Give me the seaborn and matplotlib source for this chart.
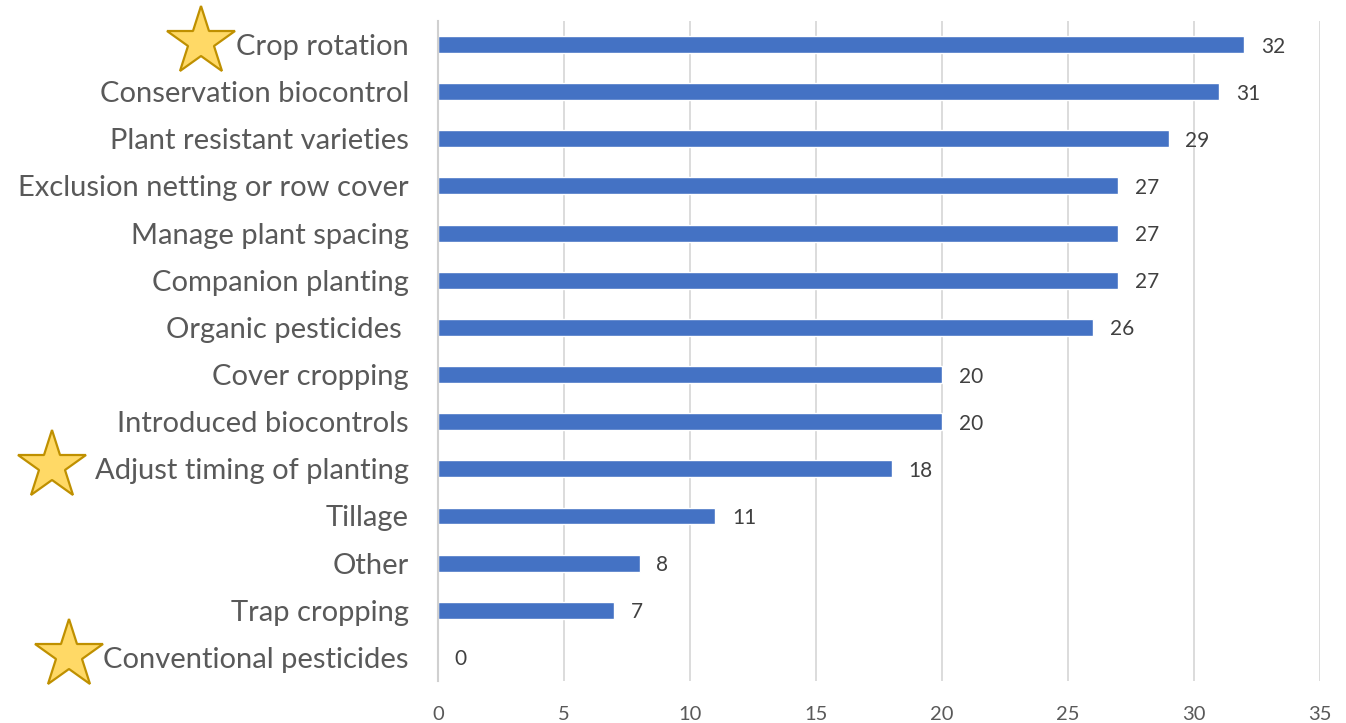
import matplotlib
matplotlib.use('Agg')
import matplotlib.pyplot as plt
import matplotlib.transforms as mtransforms
import seaborn as sns
import pandas as pd

# Data
practices = ['Crop rotation', 'Conservation biocontrol', 'Plant resistant varieties',
             'Exclusion netting or row cover', 'Manage plant spacing', 'Companion planting',
             'Organic pesticides ', 'Cover cropping', 'Introduced biocontrols',
             'Adjust timing of planting', 'Tillage', 'Other', 'Trap cropping',
             'Conventional pesticides']
counts = [32, 31, 29, 27, 27, 27, 26, 20, 20, 18, 11, 8, 7, 0]
starred = ['Crop rotation', 'Adjust timing of planting', 'Conventional pesticides']
star_x = [0.149, 0.039, 0.051]  # figure fraction for the star centres
x_ticks = [0, 5, 10, 15, 20, 25, 30, 35]

df = pd.DataFrame({'practice': practices, 'count': counts})

sns.set_theme(style='white')
plt.rcParams['font.family'] = ['Lato', 'DejaVu Sans']

fig = plt.figure(figsize=(13.46, 7.23), dpi=100)
ax = fig.add_axes([0.3254, 0.0581, 0.9807 - 0.3254, 0.971 - 0.0581])

sns.barplot(data=df, y='practice', x='count', order=practices, color='#4472C4',
            width=0.36, saturation=1, ax=ax)

ax.set_xlim(0, 35)
ax.set_ylim(len(practices) - 0.5, -0.5)
ax.set_xticks(x_ticks)
ax.xaxis.grid(True, color='#D9D9D9', lw=1.3)
ax.set_axisbelow(True)
for s in ['top', 'right', 'bottom']:
    ax.spines[s].set_visible(False)
ax.spines['left'].set_color('#D0D0D0')
ax.spines['left'].set_linewidth(1.5)
ax.set_xlabel('')
ax.set_ylabel('')
ax.tick_params(axis='y', length=0, pad=21, labelsize=21, labelcolor='#595959')
ax.tick_params(axis='x', length=0, pad=18, labelsize=14.5, labelcolor='#595959')
for lab in ax.get_yticklabels():
    lab.set_verticalalignment('center_baseline')

# value labels
for i, v in enumerate(counts):
    ax.annotate(str(v), xy=(v, i), xytext=(12, 0), textcoords='offset points',
                va='center_baseline', ha='left', fontsize=15, color='#404040')

# stars next to highlighted practices
trans = mtransforms.blended_transform_factory(fig.transFigure, ax.transData)
for name, sx in zip(starred, star_x):
    i = practices.index(name)
    ax.plot(sx, i - 0.05, marker='*', markersize=52, markerfacecolor='#FFD966',
            markeredgecolor='#BF9000', markeredgewidth=1.6, transform=trans,
            clip_on=False, zorder=5)

fig.savefig('out.png', dpi=100)
